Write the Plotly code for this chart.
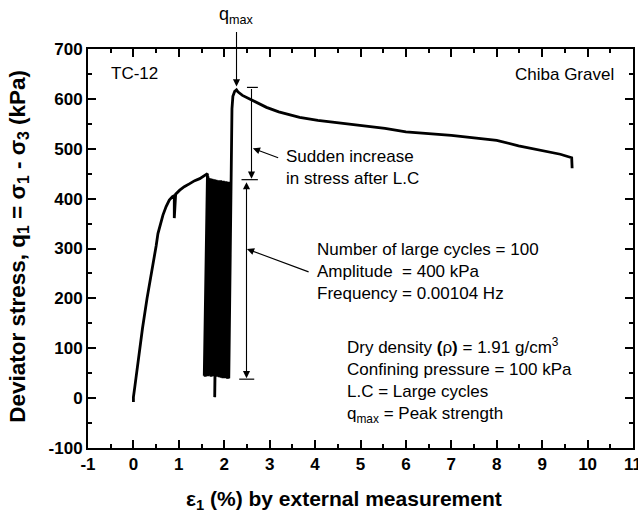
import plotly.graph_objects as go

# ---------------- data ----------------
# initial monotonic loading
init_strain = [0.0, 0.0, 0.03, 0.1, 0.2, 0.3, 0.4, 0.46, 0.5, 0.54, 0.6, 0.65, 0.72, 0.79, 0.86, 0.9, 0.9, 0.93,
               1.02, 1.12, 1.24, 1.35, 1.46, 1.55, 1.63]
init_q = [-8, 2, 22, 75, 140, 200, 250, 280, 305, 330, 352, 367, 384, 397, 404, 406, 361, 409,
          417, 424, 430, 436, 440, 445, 450]

# large cycles (trough / crest of each drawn cycle)
cyc_strain_low = [1.56, 1.58, 1.60, 1.62, 1.64, 1.66, 1.69, 1.71, 1.73, 1.75, 1.77, 1.79, 1.81, 1.83, 1.85, 1.87,
                  1.89, 1.91, 1.93, 1.95, 1.97, 1.99, 2.01, 2.03, 2.05, 2.07, 2.09, 2.10]
cyc_q_low = [45, 43, 48, 46, 44, 47, 45, 43, 46, 44, 45, 2, 44, 46, 43, 45, 42, 44, 41, 43, 40, 42, 41, 40, 42, 39, 41, 40]
cyc_strain_high = [1.64, 1.65, 1.66, 1.69, 1.71, 1.73, 1.76, 1.78, 1.80, 1.82, 1.84, 1.86, 1.88, 1.90, 1.92, 1.94,
                   1.96, 1.98, 2.00, 2.02, 2.04, 2.06, 2.08, 2.10, 2.12, 2.13, 2.15, 2.15]
cyc_q_high = [445, 442, 440, 441, 438, 440, 437, 439, 436, 438, 435, 437, 436, 434, 437, 435, 433, 436, 434, 432,
              435, 433, 431, 434, 432, 433, 431, 435]

# monotonic loading after the large cycles
post_strain = [2.16, 2.17, 2.19, 2.23, 2.27, 2.30, 2.40, 2.56, 2.75, 2.93, 3.20, 3.66, 4.06, 4.50, 5.00, 5.54, 6.00,
               6.50, 7.00, 7.50, 8.00, 8.48, 9.00, 9.40, 9.65, 9.66]
post_q = [520, 580, 605, 615, 618, 614, 607, 600, 590, 583, 574, 563, 557, 552, 547, 541, 534, 531, 527, 522, 517,
          506, 497, 489, 482, 461]

x_ticks = [-1, 0, 1, 2, 3, 4, 5, 6, 7, 8, 9, 10, 11]
y_ticks = [-100, 0, 100, 200, 300, 400, 500, 600, 700]

# ------------- assemble path -------------
xs = list(init_strain)
ys = list(init_q)
for xl, ql, xh, qh in zip(cyc_strain_low, cyc_q_low, cyc_strain_high, cyc_q_high):
    xs += [xl, xh]
    ys += [ql, qh]
xs += post_strain
ys += post_q

FONT = "Liberation Sans, Arial, Helvetica, sans-serif"

fig = go.Figure()
fig.add_trace(go.Scatter(x=xs, y=ys, mode="lines",
                         line=dict(color="black", width=2.8), hoverinfo="skip", showlegend=False))

axis_common = dict(showline=True, linecolor="black", linewidth=2, mirror="ticks",
                   ticks="inside", ticklen=8, tickwidth=1.5, tickcolor="black",
                   showgrid=False, zeroline=False, ticklabeloverflow="allow", automargin=False,
                   tickfont=dict(family=FONT, size=17, color="black", weight="bold"))

fig.update_xaxes(range=[-1, 11], tickvals=x_ticks, ticktext=[str(v) for v in x_ticks],
                 minor=dict(dtick=0.5, tick0=0, ticks="inside", ticklen=4, tickwidth=1.5, tickcolor="black"),
                 **axis_common)
fig.update_yaxes(range=[-100, 700], tickvals=y_ticks, ticktext=[str(v) for v in y_ticks],
                 minor=dict(dtick=50, tick0=0, ticks="inside", ticklen=4, tickwidth=1.5, tickcolor="black"),
                 **axis_common)

# dimension lines (caps)
caps = [(2.50, 2.74, 623), (2.38, 2.74, 438), (2.33, 2.66, 38)]
shapes = []
for x0, x1, yv in caps:
    shapes.append(dict(type="line", xref="x", yref="y", x0=x0, x1=x1, y0=yv, y1=yv,
                       line=dict(color="black", width=1.2)))
fig.update_layout(shapes=shapes)

ann = []
txt = dict(family=FONT, size=17, color="black")
# vertical dimension arrows
ann.append(dict(x=2.60, y=440, ax=2.60, ay=623, xref="x", yref="y", axref="x", ayref="y", text="",
                showarrow=True, arrowhead=2, arrowsize=1.3, arrowwidth=1.1, arrowcolor="black"))
ann.append(dict(x=2.49, y=40, ax=2.49, ay=436, xref="x", yref="y", axref="x", ayref="y", text="",
                showarrow=True, arrowhead=2, startarrowhead=2, arrowside="end+start",
                arrowsize=1.3, startarrowsize=1.3, arrowwidth=1.1, arrowcolor="black"))
# leader arrows
ann.append(dict(x=2.63, y=501, ax=3.22, ay=481, xref="x", yref="y", axref="x", ayref="y", text="",
                showarrow=True, arrowhead=2, arrowsize=1.3, arrowwidth=1.1, arrowcolor="black"))
ann.append(dict(x=2.50, y=299, ax=3.89, ay=252, xref="x", yref="y", axref="x", ayref="y", text="",
                showarrow=True, arrowhead=2, arrowsize=1.3, arrowwidth=1.1, arrowcolor="black"))
# q_max arrow and label
ann.append(dict(x=2.27, y=625, ax=0, ay=-56, xref="x", yref="y", text="",
                showarrow=True, arrowhead=2, arrowsize=1.3, arrowwidth=1.1, arrowcolor="black"))
ann.append(dict(x=2.27, y=1.085, xref="x", yref="paper", text="q<sub>max</sub>", showarrow=False,
                font=dict(family=FONT, size=18, color="black"), xanchor="center", yanchor="middle"))

# texts
ann.append(dict(x=-0.53, y=651, xref="x", yref="y", text="TC-12", showarrow=False, font=txt,
                xanchor="left", yanchor="middle"))
ann.append(dict(x=10.62, y=649, xref="x", yref="y", text="Chiba Gravel", showarrow=False, font=txt,
                xanchor="right", yanchor="middle"))
ann.append(dict(x=3.31, y=463, xref="x", yref="y", text="Sudden increase<br>in stress after L.C",
                showarrow=False, font=txt, xanchor="left", yanchor="middle", align="left"))
ann.append(dict(x=4.00, y=254, xref="x", yref="y",
                text="Number of large cycles = 100<br>Amplitude&nbsp; = 400 kPa<br>Frequency = 0.00104 Hz",
                showarrow=False, font=txt, xanchor="left", yanchor="middle", align="left"))
ann.append(dict(x=4.66, y=35, xref="x", yref="y",
                text="Dry density <b>(</b>ρ<b>)</b> = 1.91 g/cm<sup>3</sup><br>Confining pressure = 100 kPa"
                     "<br>L.C = Large cycles<br>q<sub>max</sub> = Peak strength",
                showarrow=False, font=txt, xanchor="left", yanchor="middle", align="left"))

# axis titles
ann.append(dict(x=-0.128, y=0.505, xref="paper", yref="paper",
                text="Deviator stress, q<sub>1</sub> = σ<sub>1</sub> - σ<sub>3</sub> (kPa)",
                textangle=-90, showarrow=False,
                font=dict(family=FONT, size=22.5, color="black", weight="bold"),
                xanchor="center", yanchor="middle"))
ann.append(dict(x=0.47, y=-0.13, xref="paper", yref="paper",
                text="ε<sub>1</sub> (%) by external measurement",
                showarrow=False, font=dict(family=FONT, size=21, color="black", weight="bold"),
                xanchor="center", yanchor="middle"))

fig.update_layout(annotations=ann, width=638, height=516,
                  margin=dict(l=88, r=5, t=49, b=68, autoexpand=False),
                  paper_bgcolor="white", plot_bgcolor="white",
                  font=dict(family=FONT, color="black"))

fig.write_html("out.html")
